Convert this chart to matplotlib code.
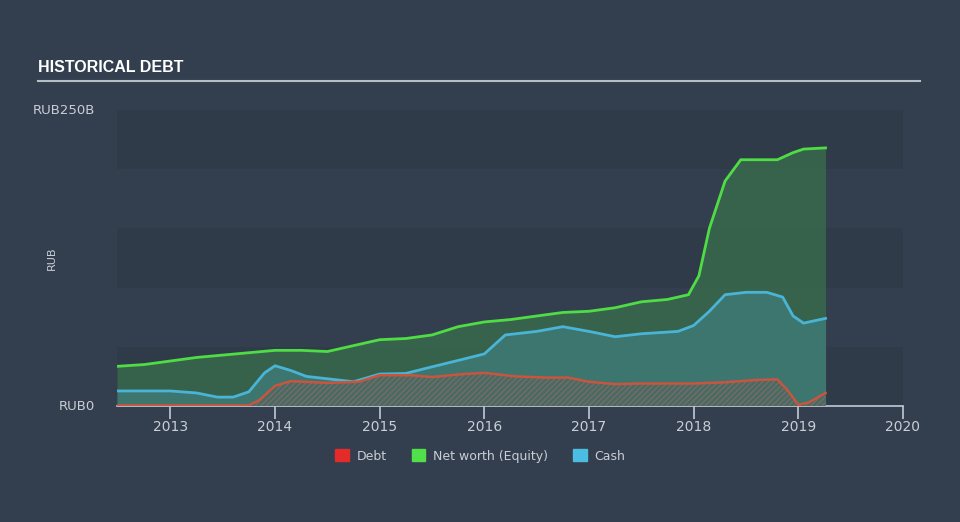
import numpy as np
import matplotlib
matplotlib.use('Agg')
import matplotlib.pyplot as plt
from matplotlib.patches import Patch

# Данные (млрд руб.)
eq_x = [2012.49, 2012.75, 2013.0, 2013.25, 2013.5, 2013.75, 2014.0, 2014.25, 2014.5,
        2014.75, 2015.0, 2015.25, 2015.5, 2015.75, 2016.0, 2016.25, 2016.5, 2016.75,
        2017.0, 2017.25, 2017.5, 2017.75, 2017.95, 2018.05, 2018.15, 2018.3, 2018.45,
        2018.6, 2018.8, 2018.95, 2019.05, 2019.26]
equity = [33.5, 35, 38, 41, 43, 45, 47, 47, 46,
          51, 56, 57, 60, 67, 71, 73, 76, 79,
          80, 83, 88, 90, 94, 110, 150, 190, 208,
          208, 208, 214, 217, 218]

cash_x = [2012.49, 2012.75, 2013.0, 2013.25, 2013.45, 2013.6, 2013.75, 2013.9, 2014.0,
          2014.15, 2014.3, 2014.5, 2014.75, 2015.0, 2015.25, 2015.45, 2015.75, 2016.0,
          2016.2, 2016.5, 2016.75, 2017.0, 2017.25, 2017.5, 2017.85, 2018.0, 2018.15,
          2018.3, 2018.5, 2018.7, 2018.85, 2018.95, 2019.05, 2019.26]
cash = [12.7, 12.7, 12.7, 11, 7.5, 7.5, 12, 28, 34,
        30, 25, 23, 20.5, 27, 27.5, 32, 38.5, 44,
        60, 63, 67, 63, 58.5, 61, 63, 68, 80,
        94, 96, 96, 92, 76, 70, 74]

debt_x = [2012.49, 2013.75, 2013.85, 2014.0, 2014.15, 2014.5, 2014.8, 2015.0, 2015.3,
          2015.5, 2015.8, 2016.0, 2016.3, 2016.6, 2016.8, 2017.0, 2017.25, 2017.5,
          2018.0, 2018.3, 2018.6, 2018.8, 2018.9, 2019.0, 2019.1, 2019.26]
debt = [0.5, 0.5, 5, 17, 21, 19.5, 20.5, 26, 26,
        24.5, 27, 28, 25, 24, 24, 20.5, 18.5, 19,
        19, 20, 22, 22.5, 13, 1, 3, 11]

years = [2013, 2014, 2015, 2016, 2017, 2018, 2019, 2020]

bg = '#333f4f'
band = '#303b4a'
text_col = '#c9ced6'

plt.rcParams['hatch.linewidth'] = 0.5

fig = plt.figure(figsize=(9.6, 5.22), dpi=100, facecolor=bg)
ax = fig.add_axes([117 / 960, 116 / 522, 786 / 960, 296 / 522])
ax.set_facecolor(bg)

# Полосы фона
for i, lo in enumerate(range(0, 250, 50)):
    if i % 2 == 0:
        ax.axhspan(lo, lo + 50, color=band, lw=0, zorder=0)

# Собственный капитал
ax.fill_between(eq_x, equity, color='#386a4c', alpha=0.85, lw=0, zorder=1)
ax.plot(eq_x, equity, color='#4fdc45', lw=2, zorder=4)

# Денежные средства
ax.fill_between(cash_x, cash, color='#3e7a76', alpha=0.85, lw=0, zorder=2)
ax.plot(cash_x, cash, color='#4ab4d6', lw=2, zorder=5)

# Долг (штриховка)
ax.fill_between(debt_x, debt, facecolor='#4a6a66', edgecolor='#9a6e60',
                hatch='//////', lw=0, zorder=3)
ax.plot(debt_x, debt, color='#c9553e', lw=1.8, zorder=6)

ax.set_xlim(2012.49, 2020.0)
ax.set_ylim(0, 250)

for s in ['top', 'right', 'left']:
    ax.spines[s].set_visible(False)
ax.spines['bottom'].set_color('#c4cad2')
ax.spines['bottom'].set_linewidth(1.2)

ax.set_xticks(years)
ax.set_xticklabels([str(y) for y in years])
ax.tick_params(axis='x', colors='#c4cad2', length=9, width=1.2, direction='out',
               labelcolor=text_col, labelsize=10, pad=1)

ax.set_yticks([0, 250])
ax.set_yticklabels(['RUB0', 'RUB250B'])
ax.tick_params(axis='y', length=0, labelcolor=text_col, labelsize=9.5, pad=16)
for lbl in ax.get_yticklabels():
    lbl.set_verticalalignment('center')

fig.text(52 / 960, 1 - 258 / 522, 'RUB', rotation=90, color=text_col,
         fontsize=8, ha='center', va='center')

# Заголовок
fig.text(38 / 960, 1 - 68 / 522, 'HISTORICAL DEBT', color='white', fontsize=11.5,
         fontweight='bold', ha='left', va='center', fontstretch='condensed',
         family=['Liberation Sans Narrow', 'Liberation Sans', 'DejaVu Sans'])
fig.add_artist(plt.Line2D([38 / 960, 920 / 960], [1 - 81 / 522, 1 - 81 / 522],
                          color='#b8bec6', lw=1.5))

# Легенда
handles = [Patch(color='#e52a2a', label='Debt'),
           Patch(color='#4fe04a', label='Net worth (Equity)'),
           Patch(color='#4cbde2', label='Cash')]
leg = fig.legend(handles=handles, loc='center', bbox_to_anchor=(0.5, 1 - 456 / 522),
                 ncol=3, frameon=False, fontsize=9, handlelength=1.1,
                 handleheight=1.1, columnspacing=2.0, handletextpad=0.6)
for t in leg.get_texts():
    t.set_color(text_col)

fig.savefig('out.png', dpi=100, facecolor=bg)
